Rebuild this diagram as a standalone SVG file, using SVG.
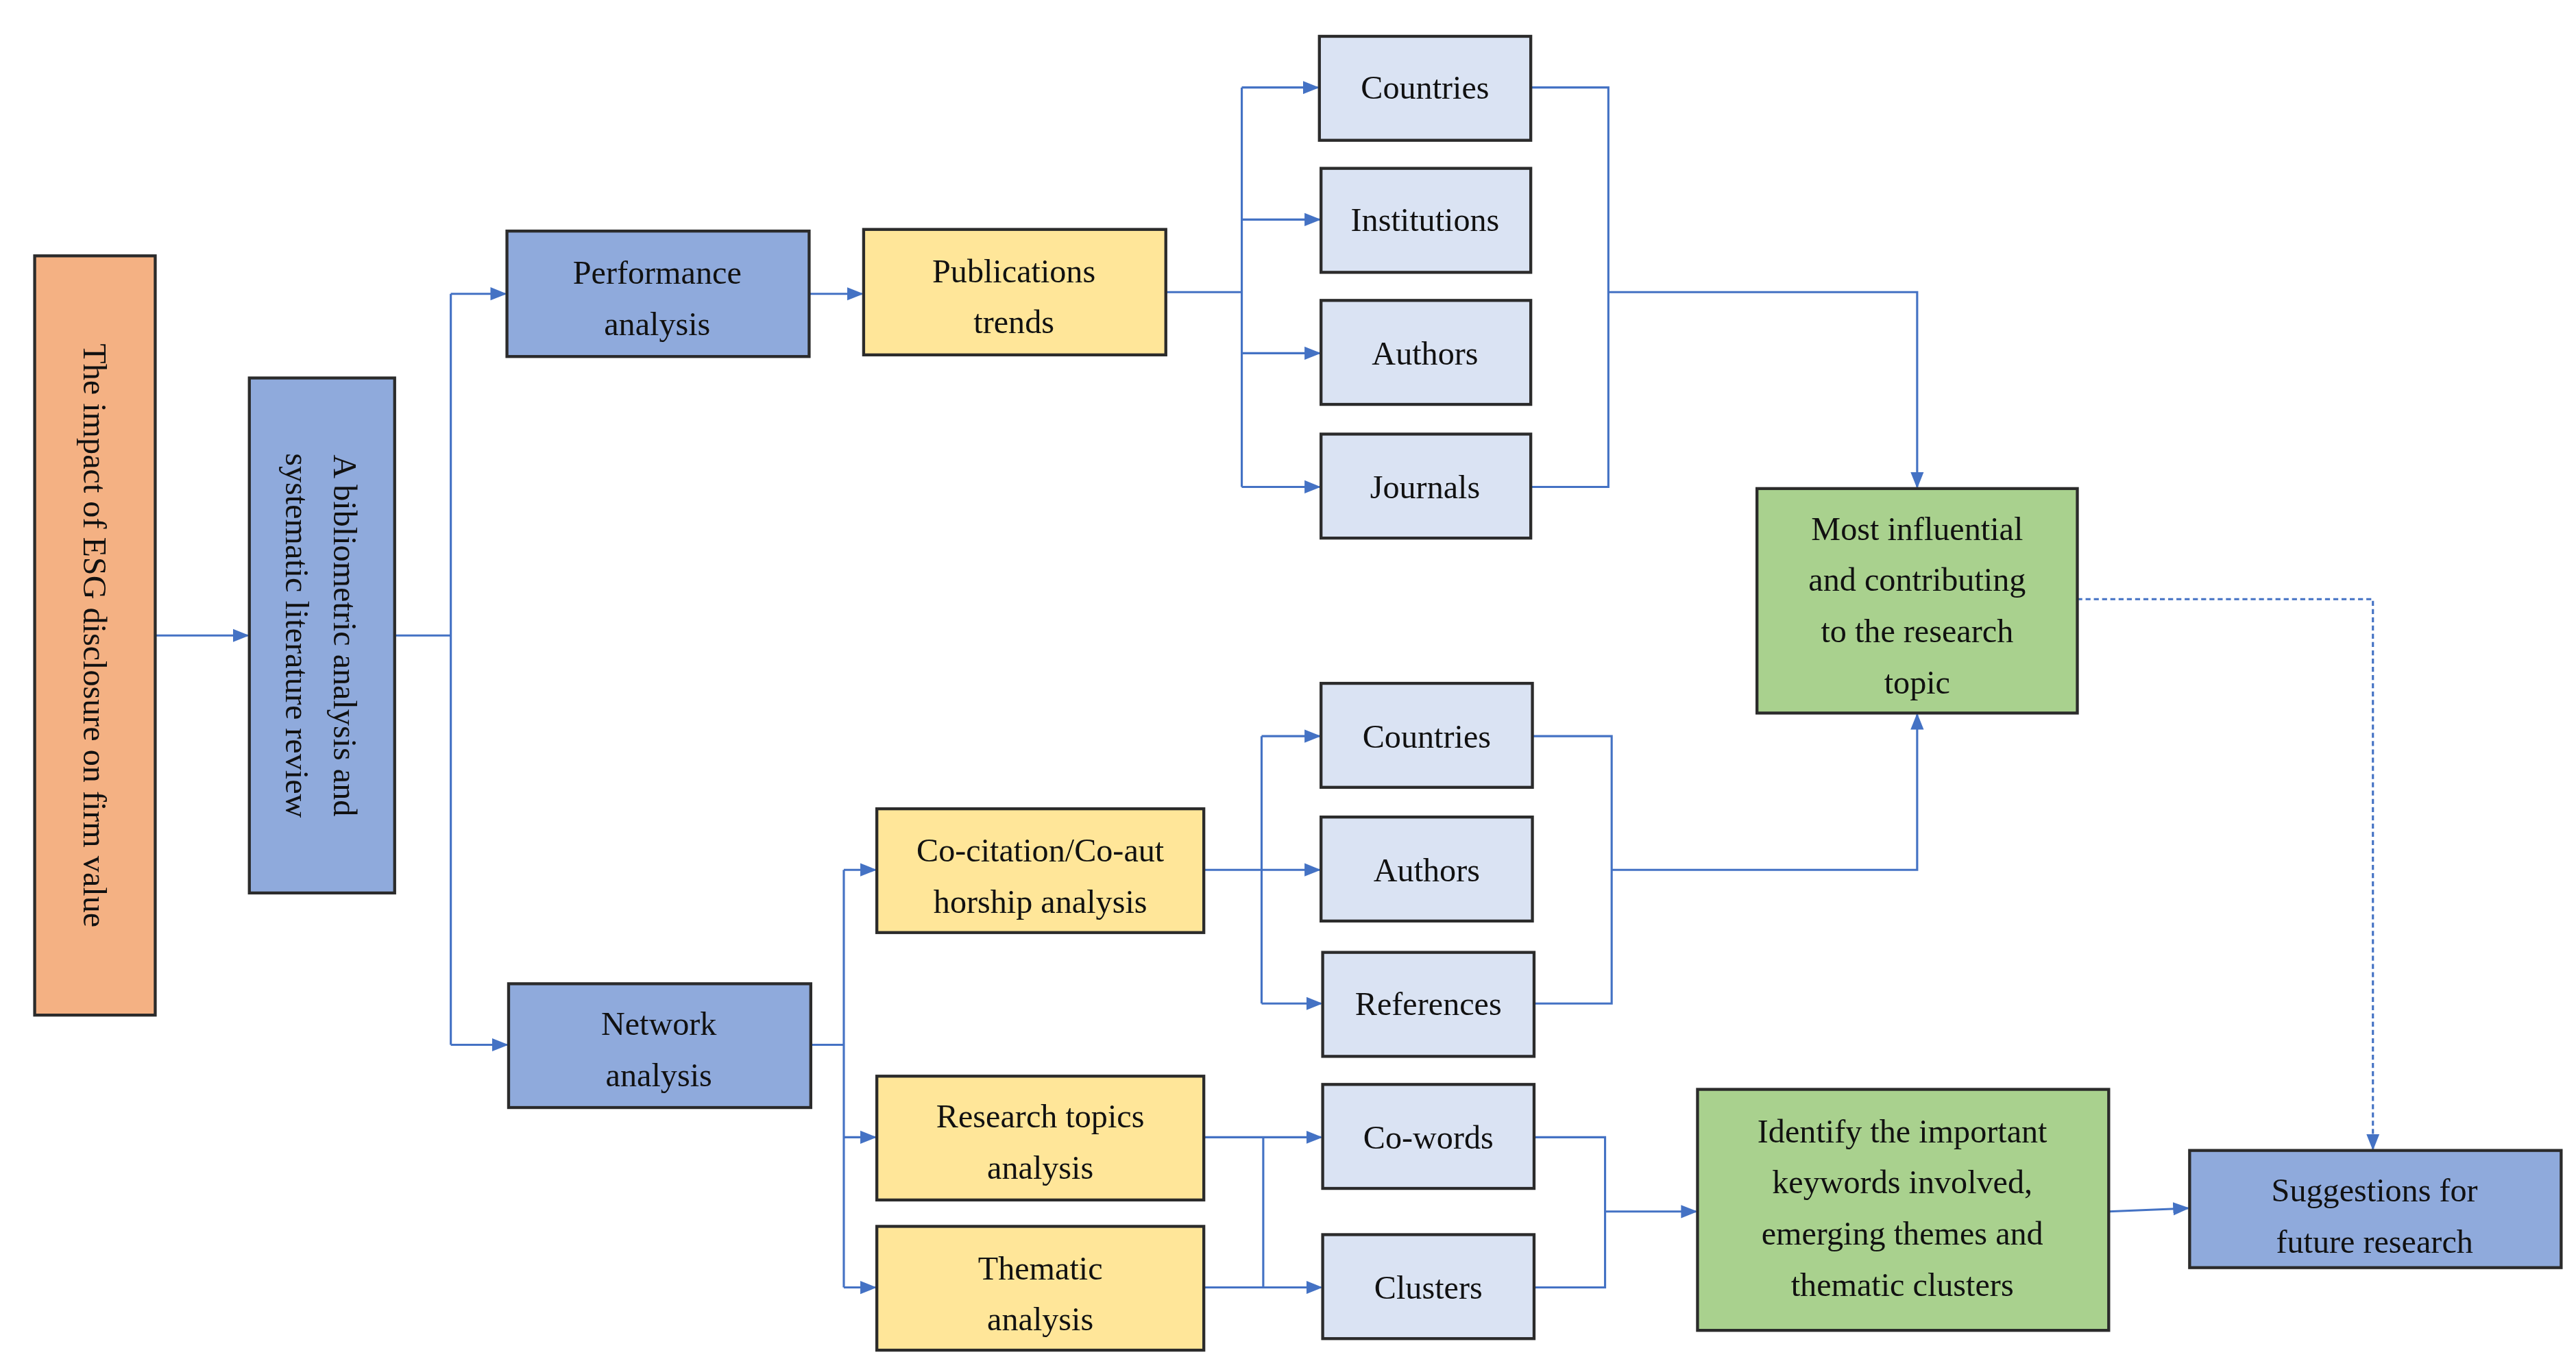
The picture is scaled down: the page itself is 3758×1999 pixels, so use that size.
<svg xmlns="http://www.w3.org/2000/svg" width="3758" height="1999" viewBox="0 0 3758 1999">
<style>
.b{stroke:#2b2b2b;stroke-width:1.8}
.o{fill:#F4B183}.bl{fill:#8FAADC}.y{fill:#FFE699}.l{fill:#DAE3F3}.g{fill:#A9D18E}
text{font-family:"Liberation Serif","Times New Roman",serif;font-size:20px;fill:#111;text-anchor:middle}
.c path{fill:none;stroke:#4472C4;stroke-width:1.3}
</style>
<defs>
<marker id="a" markerUnits="userSpaceOnUse" markerWidth="10" markerHeight="10" viewBox="0 0 10 10" refX="9" refY="5" orient="auto"><path d="M0,1 L10,5 L0,9 z" fill="#4472C4"/></marker>
</defs>
<rect width="3758" height="1999" fill="#fff"/>
<g transform="scale(2.409,2.4084)">
<g class="c">
<path d="M94,385 H150" marker-end="url(#a)"/>
<path d="M239,385 H273 M273,178 V633"/>
<path d="M273,178 H306" marker-end="url(#a)"/>
<path d="M273,633 H307" marker-end="url(#a)"/>
<path d="M490,178 H522" marker-end="url(#a)"/>
<path d="M706,177 H752 M752,53 V295"/>
<path d="M752,53 H798" marker-end="url(#a)"/>
<path d="M752,133 H799" marker-end="url(#a)"/>
<path d="M752,214 H799" marker-end="url(#a)"/>
<path d="M752,295 H799" marker-end="url(#a)"/>
<path d="M927,53 H974 V295 H927 M974,177 H1161 V295" marker-end="url(#a)"/>
<path d="M491,633 H511 M511,527 V780"/>
<path d="M511,527 H530" marker-end="url(#a)"/>
<path d="M511,689 H530" marker-end="url(#a)"/>
<path d="M511,780 H530" marker-end="url(#a)"/>
<path d="M729,527 H764 M764,446 V608"/>
<path d="M764,446 H799" marker-end="url(#a)"/>
<path d="M764,527 H799" marker-end="url(#a)"/>
<path d="M764,608 H800" marker-end="url(#a)"/>
<path d="M928,446 H976 V608 H929 M976,527 H1161 V433" marker-end="url(#a)"/>
<path d="M729,689 H800" marker-end="url(#a)"/>
<path d="M729,780 H800" marker-end="url(#a)"/>
<path d="M765,689 V780"/>
<path d="M929,689 H972 V780 H929 M972,734 H1027" marker-end="url(#a)"/>
<path d="M1277,734 L1325,732" marker-end="url(#a)"/>
<path d="M1258,363 H1437 V696" stroke-dasharray="3,2" marker-end="url(#a)"/>
</g>
<g id="esg"><rect class="b o" x="21" y="155" width="73" height="460"/><text transform="translate(57.5,385) rotate(90)" y="7">The impact of ESG disclosure on firm value</text></g>
<g id="biblio"><rect class="b bl" x="151" y="229" width="88" height="312"/><text transform="translate(195,385) rotate(90)"><tspan x="0" y="-7">A bibliometric analysis and</tspan><tspan x="0" y="22">systematic literature review</tspan></text></g>
<g id="perf"><rect class="b bl" x="307" y="140" width="183" height="76"/><text x="398" y="172">Performance</text><text x="398" y="203">analysis</text></g>
<g id="pub"><rect class="b y" x="523" y="139" width="183" height="76"/><text x="614" y="171">Publications</text><text x="614" y="202">trends</text></g>
<g id="countries1"><rect class="b l" x="799" y="22" width="128" height="63"/><text x="863" y="60">Countries</text></g>
<g id="inst"><rect class="b l" x="800" y="102" width="127" height="63"/><text x="863" y="140">Institutions</text></g>
<g id="authors1"><rect class="b l" x="800" y="182" width="127" height="63"/><text x="863" y="221">Authors</text></g>
<g id="journals"><rect class="b l" x="800" y="263" width="127" height="63"/><text x="863" y="302">Journals</text></g>
<g id="most"><rect class="b g" x="1064" y="296" width="194" height="136"/><text x="1161" y="327">Most influential</text><text x="1161" y="358">and contributing</text><text x="1161" y="389">to the research</text><text x="1161" y="420">topic</text></g>
<g id="countries2"><rect class="b l" x="800" y="414" width="128" height="63"/><text x="864" y="453">Countries</text></g>
<g id="authors2"><rect class="b l" x="800" y="495" width="128" height="63"/><text x="864" y="534">Authors</text></g>
<g id="refs"><rect class="b l" x="801" y="577" width="128" height="63"/><text x="865" y="615">References</text></g>
<g id="cocit"><rect class="b y" x="531" y="490" width="198" height="75"/><text x="630" y="522">Co-citation/Co-aut</text><text x="630" y="553">horship analysis</text></g>
<g id="network"><rect class="b bl" x="308" y="596" width="183" height="75"/><text x="399" y="627">Network</text><text x="399" y="658">analysis</text></g>
<g id="research"><rect class="b y" x="531" y="652" width="198" height="75"/><text x="630" y="683">Research topics</text><text x="630" y="714">analysis</text></g>
<g id="thematic"><rect class="b y" x="531" y="743" width="198" height="75"/><text x="630" y="775">Thematic</text><text x="630" y="806">analysis</text></g>
<g id="cowords"><rect class="b l" x="801" y="657" width="128" height="63"/><text x="865" y="696">Co-words</text></g>
<g id="clusters"><rect class="b l" x="801" y="748" width="128" height="63"/><text x="865" y="787">Clusters</text></g>
<g id="identify"><rect class="b g" x="1028" y="660" width="249" height="146"/><text x="1152" y="692">Identify the important</text><text x="1152" y="723">keywords involved,</text><text x="1152" y="754">emerging themes and</text><text x="1152" y="785">thematic clusters</text></g>
<g id="suggest"><rect class="b bl" x="1326" y="697" width="225" height="71"/><text x="1438" y="728">Suggestions for</text><text x="1438" y="759">future research</text></g>
</g>
</svg>
